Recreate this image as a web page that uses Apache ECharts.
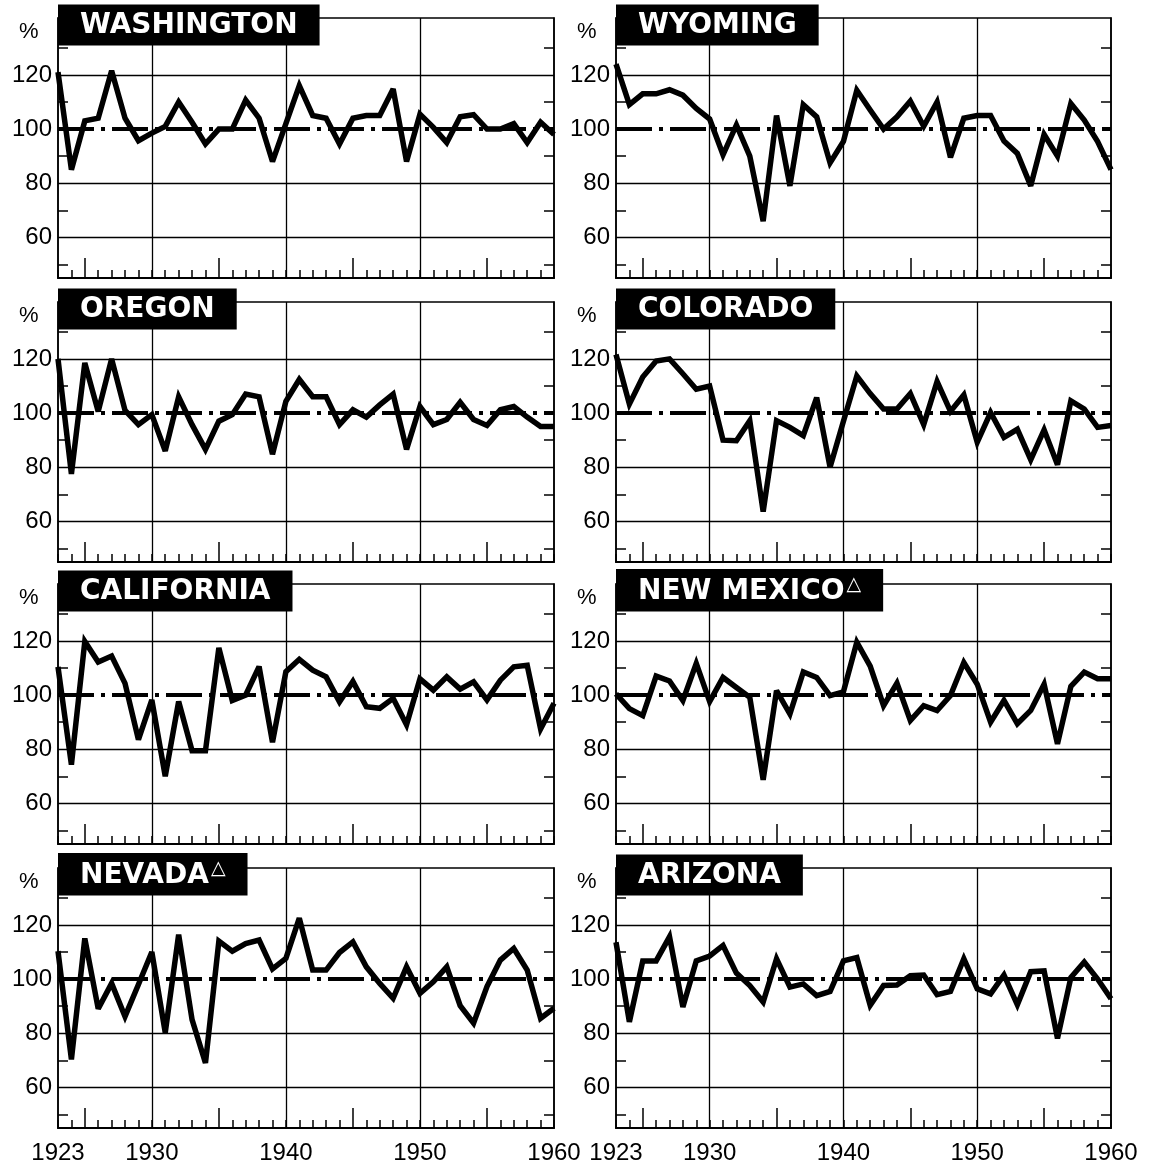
<!DOCTYPE html>
<html><head><meta charset="utf-8">
<script src="https://cdn.jsdelivr.net/npm/echarts@6/dist/echarts.min.js"></script>
<style>html,body{margin:0;padding:0;background:#fff}#c{width:1151px;height:1166px}</style>
</head><body><div id="c"></div>
<script>
const years = [1923,1924,1925,1926,1927,1928,1929,1930,1931,1932,1933,1934,1935,1936,1937,1938,1939,1940,1941,1942,1943,1944,1945,1946,1947,1948,1949,1950,1951,1952,1953,1954,1955,1956,1957,1958,1959,1960];

const washington = [121,85,103,104,121.5,104,95.7,98.5,101,110,102.5,94.5,100,100,110.7,104,88,102,116,105,104,94.5,104,105,105,114.8,88,105.5,100.6,95,104.5,105.3,100,100,102,95,102.5,98];
const wyoming = [124,109,113,113,114.5,112.5,107.6,103.7,90.5,101.5,90,66,105,79,109,104.5,87.5,95.4,114.3,107,100,104.5,110.3,101,110,89.5,104,105,105,95.6,91,79,98,90,109.4,103.3,95.4,85];
const oregon = [120,77.5,118.5,100.6,120,101,95.7,99.4,86,106,95.7,86.6,97,99.4,107,106,84.8,104.3,112.4,106,106,95.7,101.2,98.5,103,107,86.6,102.4,95.7,97.6,104,97.6,95.4,101.2,102.4,98.5,95,95];
const colorado = [121.6,103.3,113.3,119.2,120,114.5,108.8,110,90,89.8,97.2,63.6,97.2,94.7,91.7,105.7,80,97,113.7,107.2,101.5,101.5,107.2,95.7,111.6,100.6,106.7,89.2,100.2,91,94,82.8,93.8,80.9,104.5,101.5,94.7,95.4];
const california = [110.4,74.3,119.8,112.2,114.4,104.3,83.5,98.2,70,97.6,79.4,79.4,117.4,98,100,110.5,82.6,108.6,113.2,109.2,106.7,97.5,105,95.7,95.1,98.8,89,106,101.8,106.7,102.2,104.9,98.2,105.5,110.4,111,87.5,97];
const newMexico = [100.4,95,92.4,107,105.2,98,111.7,97.6,106.5,102.8,99.2,68.7,101.6,93,108.5,106.5,99.8,101.2,119.5,110.7,96.1,104.4,90.6,96.1,94.3,99.8,112,104,90,98,89.4,94.3,104,82,103.2,108.5,106,106];
const nevada = [110.3,70.3,115,89,98.4,86.2,98,110,80.2,116.4,85,69,114,110.3,113.1,114.4,103.7,107.6,122.5,103.3,103.3,109.8,113.7,104.5,98.4,92.9,104.5,94.7,99,104.5,90.2,83.7,97.2,107,111.3,103.3,85.5,89.2];
const arizona = [113.6,84.2,106.7,106.7,115.6,89.7,106.7,108.5,112.4,102.2,97.6,91.5,107.5,97,98.2,93.9,95.4,106.7,107.9,90.3,97.6,97.8,101.2,101.5,94.2,95.4,107.5,96.4,94.5,101.5,90.5,102.7,103,78.1,100.6,106.3,100,92.7];

const stateNames = ['WASHINGTON','WYOMING','OREGON','COLORADO','CALIFORNIA','NEW MEXICO','NEVADA','ARIZONA'];
const stateMarks = [false,false,false,false,false,true,true,false];
const stateData = [washington, wyoming, oregon, colorado, california, newMexico, nevada, arizona];

const yLabelValues = [60,80,100,120];
const yTickValues = [50,70,90,110,130];
const xLabelValues = [1923,1930,1940,1950,1960];
const xLongTickValues = [1925,1935,1945,1955];
const xGridValues = [1930,1940,1950];
const hGridValues = [60,80,120];
const refValue = 100;
const unitLabel = '%';

const X_MIN = 1923, X_MAX = 1960, Y_MIN = 45, Y_MAX = 141;
const colLeft = [58, 616];
const colRight = [597, 40];
const rowTop = [18, 302, 584, 868];
const plotH = 260;
const labelFont = 'Liberation Sans';

const grids = [], xAxes = [], yAxes = [], series = [], titles = [], graphics = [];

stateNames.forEach((name, i) => {
  const col = i % 2, row = Math.floor(i / 2);
  grids.push({left: colLeft[col], right: colRight[col], top: rowTop[row], height: plotH,
    show: true, borderColor: '#000', borderWidth: 1.5, backgroundColor: 'transparent'});
  xAxes.push({type: 'value', gridIndex: i, min: X_MIN, max: X_MAX, interval: 1,
    axisLine: {show: true, onZero: false, lineStyle: {color: '#000', width: 2}},
    axisTick: {show: true, inside: true, length: 8, lineStyle: {color: '#000', width: 1.5}},
    axisLabel: {show: row === 3, customValues: xLabelValues, formatter: v => String(v),
      fontSize: 24, margin: 13, color: '#000', fontFamily: labelFont},
    splitLine: {show: false}});
  xAxes.push({type: 'value', gridIndex: i, min: X_MIN, max: X_MAX, position: 'bottom',
    axisLine: {show: false, onZero: false},
    axisTick: {show: true, inside: true, length: 20, customValues: xLongTickValues, lineStyle: {color: '#000', width: 1.5}},
    axisLabel: {show: false}, splitLine: {show: false}});
  yAxes.push({type: 'value', gridIndex: i, min: Y_MIN, max: Y_MAX, position: 'left',
    axisLine: {show: true, onZero: false, lineStyle: {color: '#000', width: 1.5}},
    axisTick: {show: true, inside: true, length: 10, customValues: yTickValues, lineStyle: {color: '#000', width: 1.5}},
    axisLabel: {show: true, customValues: yLabelValues, formatter: v => String(v), fontSize: 24, margin: 6, color: '#000', fontFamily: labelFont},
    splitLine: {show: false}});
  yAxes.push({type: 'value', gridIndex: i, min: Y_MIN, max: Y_MAX, position: 'right',
    axisLine: {show: true, onZero: false, lineStyle: {color: '#000', width: 1.5}},
    axisTick: {show: true, inside: true, length: 10, customValues: yTickValues, lineStyle: {color: '#000', width: 1.5}},
    axisLabel: {show: false}, splitLine: {show: false}});

  const d = stateData[i];
  const thin = {color: '#000', width: 1.3, type: 'solid'};
  series.push({type: 'line', name: name, xAxisIndex: 2 * i, yAxisIndex: 2 * i,
    data: years.map((y, k) => [y, d[k]]),
    showSymbol: false, symbol: 'none', z: 10, animation: false,
    lineStyle: {color: '#000', width: 5.5, join: 'miter', miterLimit: 3},
    markLine: {silent: true, symbol: ['none', 'none'], label: {show: false}, z: 3, animation: false,
      data: [
        ...xGridValues.map(v => ({xAxis: v, lineStyle: thin})),
        ...hGridValues.map(v => ({yAxis: v, lineStyle: thin})),
        {yAxis: refValue, lineStyle: {color: '#000', width: 4, type: [36, 7, 4, 7]}}
      ]}
  });

  const txt = stateMarks[i] ? '{n|' + name + '}{t|\u25B3}' : '{n|' + name + '}';
  titles.push({text: txt, left: colLeft[col], top: rowTop[row] - 15, padding: [7, 22, 6, 22],
    backgroundColor: '#000', z: 20,
    textStyle: {rich: {
      n: {color: '#fff', fontSize: 28, fontWeight: 'bold', fontFamily: 'DejaVu Sans', lineHeight: 31},
      t: {color: '#fff', fontSize: 19, fontFamily: 'DejaVu Sans', lineHeight: 16, verticalAlign: 'top', padding: [0, 0, 0, 2]}
    }}});

  graphics.push({type: 'text', left: colLeft[col] - 39, top: rowTop[row] + 3,
    style: {text: unitLabel, fontSize: 22, fontFamily: labelFont, fill: '#000'}});
});

const chart = echarts.init(document.getElementById('c'), null, {renderer: 'canvas'});
chart.setOption({
  backgroundColor: '#fff', animation: false,
  title: titles, grid: grids, xAxis: xAxes, yAxis: yAxes, series: series, graphic: graphics
});
</script></body></html>
